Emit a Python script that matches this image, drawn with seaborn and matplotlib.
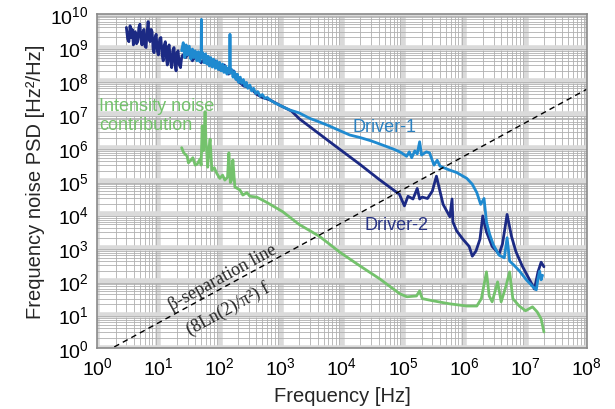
import numpy as np
import pandas as pd
import matplotlib
matplotlib.use("Agg")
import matplotlib.pyplot as plt
import seaborn as sns
from matplotlib.ticker import LogLocator, NullFormatter

# ---- data (Hz, Hz^2/Hz) ----
d1_freq = [24, 25.5, 27, 28.5, 30, 32, 34, 36, 38, 40,
           42.5, 45, 47.5, 50, 50.5, 51, 53, 56, 59, 62,
           65, 68, 72, 76, 80, 85, 90, 95, 100, 106,
           112, 118, 125, 132, 140, 145, 148, 151, 158, 166,
           175, 185, 195, 205, 218, 230, 245, 260, 275, 290,
           313, 335, 360, 390, 420, 460, 500, 550, 600, 665,
           800, 1000, 1400, 2000, 3000, 3900, 6000, 9000, 13400, 20000,
           30000, 46000, 70000, 88000, 1.0e5, 1.14e5, 1.26e5, 1.38e5, 1.55e5, 1.7e5,
           1.86e5, 2.0e5, 2.4e5, 2.7e5, 3.2e5, 3.6e5, 4.0e5, 5.5e5, 7.5e5, 1.1e6,
           1.35e6, 1.6e6, 1.85e6, 2.1e6, 2.3e6, 2.6e6, 3.0e6, 3.7e6, 4.5e6, 5.0e6,
           5.5e6, 6.5e6, 8e6, 1.03e7, 1.3e7, 1.5e7, 1.6e7, 1.7e7, 1.8e7, 1.9e7]
d1_psd = [8e8, 1.4e9, 5e8, 1.2e9, 6e8, 1.1e9, 4.5e8, 9e8, 5e8, 8e8,
          4e8, 7.5e8, 3.8e8, 6e8, 7e9, 5e8, 7e8, 3.5e8, 6.5e8, 3.2e8,
          5.5e8, 2.8e8, 5e8, 2.6e8, 4.5e8, 2.4e8, 4e8, 2.2e8, 3.6e8, 2e8,
          3.2e8, 1.8e8, 2.8e8, 1.6e8, 2.5e8, 1.7e8, 2.5e9, 1.8e8, 2.2e8, 1.3e8,
          1.9e8, 1.1e8, 1.6e8, 9e7, 1.3e8, 8.5e7, 1.1e8, 7e7, 9e7, 6e7,
          7.5e7, 5e7, 6e7, 4.2e7, 4.8e7, 3.5e7, 3.9e7, 3e7, 3.2e7, 2.7e7,
          2.2e7, 1.8e7, 1.35e7, 1.1e7, 7.5e6, 6.3e6, 4.6e6, 3.3e6, 2.4e6, 2e6,
          1.6e6, 1.2e6, 9e5, 7.5e5, 6.5e5, 5.5e5, 7.5e5, 5e5, 8e5, 6.5e5,
          1.5e6, 6e5, 7.5e5, 7e5, 3e5, 4.2e5, 2.8e5, 2.2e5, 1.8e5, 1.2e5,
          8e4, 4.5e4, 2e4, 3e4, 6e3, 2.5e3, 1.2e3, 600, 500, 2e3,
          400, 300, 200, 110, 70, 55, 120, 200, 110, 150]

d2_freq = [3.0, 3.15, 3.3, 3.45, 3.6, 3.75, 3.9, 4.05, 4.2, 4.4,
           4.6, 4.8, 5.0, 5.2, 5.4, 5.6, 5.8, 6.05, 6.3, 6.55,
           6.8, 7.05, 7.3, 7.6, 7.9, 8.2, 8.5, 8.85, 9.2, 9.6,
           10, 10.5, 11, 11.5, 12, 12.5, 13, 13.5, 14, 14.5,
           15, 15.7, 16.5, 17.2, 18, 18.7, 19.5, 20.2, 21, 22,
           23, 24, 25, 28, 32, 36, 42, 50, 60, 70,
           85, 100, 120, 140, 170, 200, 250, 313, 400, 500,
           665, 1000, 1500, 2000, 7000, 19500, 41000, 87000, 1.05e5,
           1.2e5, 1.45e5, 1.7e5, 1.86e5, 2.05e5, 2.5e5, 3.0e5, 3.5e5, 3.9e5, 4.5e5,
           5.8e5, 6.3e5, 6.5e5, 7.5e5, 9.5e5, 1.2e6, 1.35e6, 1.55e6, 1.8e6, 2.0e6,
           2.3e6, 2.85e6, 3.7e6, 4.2e6, 5.0e6, 5.9e6, 7.0e6, 8.8e6, 1.15e7, 1.4e7,
           1.6e7, 1.8e7, 2.0e7]
d2_psd = [4e9, 1.8e9, 1.5e9, 4.5e9, 2e9, 3.5e9, 1.2e9, 2.5e9, 3e9, 1.3e9,
          1.5e9, 4e9, 5e9, 1.8e9, 1.2e9, 2.8e9, 3.5e9, 1.1e9, 1e9, 3e9,
          6e9, 2e9, 1.5e9, 3.5e9, 3e9, 9e8, 7e8, 2e9, 2.5e9, 8e8,
          6e8, 1.8e9, 2e9, 6e8, 4e8, 1.2e9, 1.5e9, 5e8, 3e8, 1e9,
          1.2e9, 4e8, 2.5e8, 8e8, 1e9, 3e8, 2e8, 7e8, 8e8, 3e8,
          2.5e8, 5e8, 6e8, 5e8, 7e8, 4e8, 6e8, 3.5e8, 5e8, 3e8,
          4e8, 2.2e8, 3e8, 1.6e8, 2e8, 1e8, 7e7, 6.5e7, 4e7, 3.2e7,
          2.7e7, 1.8e7, 1.25e7, 7.4e6, 1.3e6, 3.2e5, 1.1e5, 4e4, 1.8e4,
          3.5e4, 2.9e4, 6e4, 2.9e4, 3.3e4, 3e4, 5e4, 1.4e5, 6e4, 2e4,
          8.5e3, 2.9e4, 6e3, 3.2e3, 1.8e3, 1.1e3, 560, 800, 1.8e3, 9e3,
          3e3, 1.1e3, 650, 1.3e3, 1e4, 2.2e3, 750, 290, 115, 58,
          190, 370, 270]

int_freq = [24, 26, 29.5, 31, 33, 36.6, 40, 43, 48, 50,
            52, 54, 56, 58, 60, 62, 64, 67, 70, 75,
            82, 90, 101, 112, 122, 135, 142, 150, 158, 165,
            178, 215, 240, 280, 313, 405, 590, 1080, 2000, 4300,
            9200, 19500, 41500, 8.8e4, 1.15e5, 1.65e5, 1.86e5, 2.05e5, 3e5, 5.7e5,
            1.1e6, 1.6e6, 1.9e6, 2.3e6, 2.55e6, 2.85e6, 3.5e6, 4e6, 4.8e6, 5.5e6,
            6.2e6, 7.9e6, 1.0e7, 1.3e7, 1.55e7, 1.8e7, 2.0e7]
int_psd = [1e6, 7e5, 5.6e5, 3.5e5, 4e5, 5e5, 3e5, 3.2e5, 4.6e5, 3e5,
           4.5e6, 8e5, 2e6, 1.2e7, 1.5e6, 7e5, 2.6e5, 9e5, 1.8e6, 2.1e5,
           2.5e5, 1.7e5, 1.2e5, 1.5e5, 1.07e5, 1.3e5, 7e5, 9e4, 1.1e5, 4.3e5,
           6.6e4, 5.4e4, 3.8e4, 4.5e4, 3.5e4, 3.3e4, 2.3e4, 1.2e4, 5e3, 2.2e3,
           740, 290, 117, 42, 34, 36, 51, 30, 26, 21,
           18, 18, 30, 190, 36, 24, 95, 24, 72, 190,
           30, 18, 13, 17, 12, 7.4, 3]

# beta-separation line: (8 ln2 / pi^2) f
beta_freq = [1.0, 1e8]
beta_psd = [8 * np.log(2) / np.pi ** 2 * f for f in beta_freq]

# ---- style ----
sns.set_style("white")
plt.rcParams["font.family"] = ["Liberation Sans", "DejaVu Sans"]

fig, ax = plt.subplots(figsize=(6.15, 4.1), dpi=100)
fig.subplots_adjust(left=0.158, right=0.954, top=0.963, bottom=0.149)
ax.set_xscale("log")
ax.set_yscale("log")

c_d1 = "#1f8ad0"
c_d2 = "#1c2a84"
c_int = "#74c26c"

sns.lineplot(x=int_freq, y=int_psd, ax=ax, color=c_int, linewidth=2.0,
             estimator=None, sort=False)
sns.lineplot(x=d2_freq, y=d2_psd, ax=ax, color=c_d2, linewidth=2.0,
             estimator=None, sort=False)
sns.lineplot(x=d1_freq, y=d1_psd, ax=ax, color=c_d1, linewidth=2.0,
             estimator=None, sort=False)
sns.lineplot(x=beta_freq, y=beta_psd, ax=ax, color="black", linewidth=1.0,
             dashes=False, linestyle=(0, (4, 3)))

ax.set_xlim(1, 1e8)
ax.set_ylim(1, 1e10)

ax.xaxis.set_major_locator(LogLocator(base=10, numticks=20))
ax.yaxis.set_major_locator(LogLocator(base=10, numticks=20))
ax.xaxis.set_minor_locator(LogLocator(base=10, subs=np.arange(2, 10), numticks=20))
ax.yaxis.set_minor_locator(LogLocator(base=10, subs=np.arange(2, 10), numticks=20))
ax.xaxis.set_minor_formatter(NullFormatter())
ax.yaxis.set_minor_formatter(NullFormatter())

ax.grid(which="major", color="#dadada", linewidth=4)
ax.grid(which="minor", color="#b0b0b0", linewidth=0.6)
ax.set_axisbelow(True)
for s in ax.spines.values():
    s.set_color("#8a8a8a")
    s.set_linewidth(1.2)

ax.tick_params(which="both", length=0, labelsize=14, colors="black", pad=6)

ax.set_xlabel("Frequency [Hz]", fontsize=14.5, labelpad=6)
ax.set_ylabel("Frequency noise PSD [Hz²/Hz]", fontsize=14.5, labelpad=4)

# ---- annotations ----
ax.text(5e4, 4.4e6, "Driver-1", color="#2a80c0", fontsize=13, ha="center", va="center")
ax.text(7.8e4, 5e3, "Driver-2", color="#2a3585", fontsize=13, ha="center", va="center")
ax.text(1.08, 9.5e6, "Intensity noise\ncontribution", color=c_int, fontsize=13,
        ha="left", va="center", linespacing=1.15)

ax.text(114, 134, "β-separation line", family=["Liberation Serif", "DejaVu Serif"],
        fontsize=13, rotation=28.6, rotation_mode="anchor", ha="center", va="center")
ax.text(137, 16, "(8Ln(2)/π²) f", family=["Liberation Serif", "DejaVu Serif"],
        fontsize=13, rotation=28.6, rotation_mode="anchor", ha="center", va="center")

plt.savefig("out.png", dpi=100)
